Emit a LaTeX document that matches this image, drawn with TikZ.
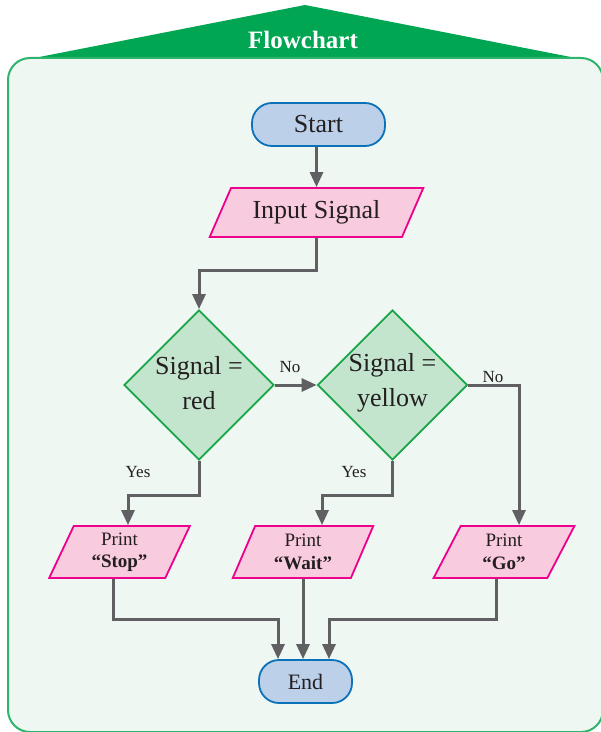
\documentclass[tikz,border=0pt]{standalone}
\usepackage{fontspec}
\setmainfont{Liberation Serif}
\usepackage{tikz}
\usetikzlibrary{shapes.geometric,arrows.meta}

\definecolor{bannergreen}{HTML}{00A651}
\definecolor{panelfill}{HTML}{EEF7F2}
\definecolor{panelline}{HTML}{2EB46C}
\definecolor{termfill}{HTML}{BCD0EA}
\definecolor{termline}{HTML}{0B72B9}
\definecolor{iofill}{HTML}{F9CBDE}
\definecolor{ioline}{HTML}{EC008C}
\definecolor{decfill}{HTML}{C3E4CD}
\definecolor{decline}{HTML}{18A548}
\definecolor{flowgray}{HTML}{606062}
\definecolor{inkgray}{HTML}{231F20}

\tikzset{
  terminal/.style={draw=termline,fill=termfill,line width=0.9pt,rounded corners=10pt,
    minimum width=66.5pt,minimum height=21.5pt,inner sep=0pt,text=inkgray,
    font=\fontsize{13}{15}\selectfont},
  inout/.style={trapezium,trapezium stretches=true,trapezium left angle=56,
    trapezium right angle=124,draw=ioline,fill=iofill,line width=0.9pt,inner sep=0pt,
    minimum width=107pt,minimum height=24.5pt,text=inkgray,font=\fontsize{13}{15}\selectfont},
  outbox/.style={inout,trapezium left angle=69,trapezium right angle=111,
    minimum width=70.5pt,minimum height=26pt,align=center,
    font=\fontsize{9.5}{11.25}\selectfont},
  decision/.style={diamond,draw=decline,fill=decfill,line width=0.9pt,
    minimum width=75pt,minimum height=75pt,inner sep=0pt},
  dtext/.style={align=center,text=inkgray,font=\fontsize{13}{17.5}\selectfont},
  flow/.style={draw=flowgray,line width=1.5pt,->},
  lbl/.style={text=inkgray,font=\fontsize{8.5}{10}\selectfont}
}

\begin{document}
\begin{tikzpicture}[x=0.5pt,y=-0.5pt,>={Triangle[length=7.5pt,width=6.5pt]}]
  \useasboundingbox (0,0) rectangle (600,732);

  % banner and panel
  \fill[bannergreen] (24,60) -- (305,5) -- (586,60) -- cycle;
  \draw[panelline,fill=panelfill,line width=1pt,rounded corners=11pt] (8,58) rectangle (603,732);
  \node[text=white,font=\fontsize{12.5}{14}\selectfont\bfseries] (title) at (303,40) {Flowchart};

  % nodes
  \node[terminal] (start) at (318.5,124.5) {Start};
  \node[inout] (input) at (316.5,212.5) {Input Signal};
  \node[decision,label={[dtext,yshift=1pt]center:{Signal =\\red}}] (red) at (199,385) {};
  \node[decision,label={[dtext,yshift=1pt]center:{Signal =\\yellow}}] (yellow) at (392.5,385) {};
  \node[outbox] (stop) at (119.5,552) {Print\\\textbf{“Stop”}};
  \node[outbox] (wait) at (303,552) {Print\\\textbf{“Wait”}};
  \node[outbox] (go) at (504,552) {Print\\\textbf{“Go”}};
  \node[terminal,minimum width=46.5pt,font=\fontsize{11}{13}\selectfont] (end) at (305.5,681.5) {End};

  % labels
  \node[lbl] (no-red) at (290,367) {No};
  \node[lbl] (no-yellow) at (493,377) {No};
  \node[lbl] (yes-red) at (138,472) {Yes};
  \node[lbl] (yes-yellow) at (354,472) {Yes};

  % connectors
  \draw[flow] (input.north |- start.south) -- (input.north);
  \draw[flow] (input.south) -- ++(0,33) -| (red.north);
  \draw[flow] (red.east) -- (yellow.west);
  \draw[flow] (yellow.east) -| ([xshift=7.5pt]go.north);
  \draw[flow] (red.south) -- ++(0,35) -| ([xshift=4.25pt]stop.north);
  \draw[flow] (yellow.south) -- ++(0,35) -| ([xshift=9.5pt]wait.north);
  \draw[flow] ([xshift=-3.25pt]stop.south) -- ++(0,41) -| ([xshift=-13.75pt]end.north);
  \draw[flow] (wait.south) -- (wait.south |- end.north);
  \draw[flow] ([xshift=-4pt]go.south) -- ++(0,41) -| ([xshift=11.75pt]end.north);
\end{tikzpicture}
\end{document}
